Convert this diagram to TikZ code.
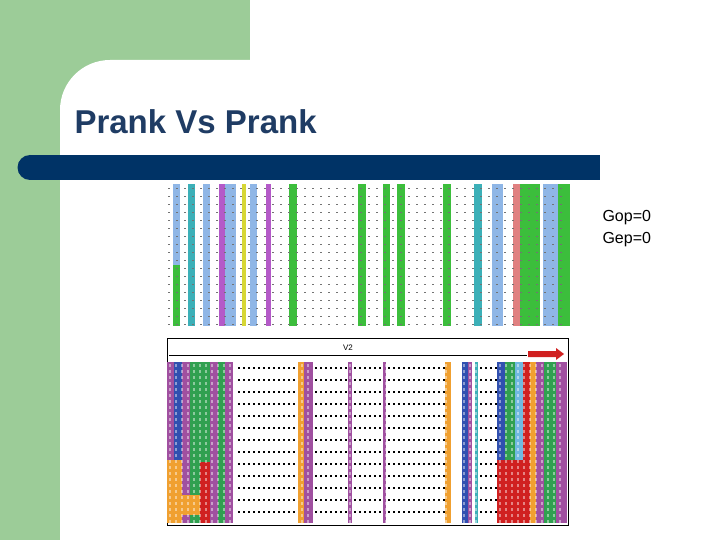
\documentclass[tikz,border=0pt]{standalone}
\usepackage{fontspec}
\setmainfont{Liberation Sans}
\begin{document}
\begin{tikzpicture}[x=1pt,y=-1pt]
\definecolor{bggreen}{HTML}{9CCC98}
\definecolor{navy}{HTML}{003366}
\definecolor{ttl}{HTML}{1F3C64}
\definecolor{lb}{HTML}{8FB6E6}\definecolor{tl}{HTML}{3CB0B8}
\definecolor{pu}{HTML}{B45AC8}\definecolor{ye}{HTML}{D7D735}
\definecolor{gr}{HTML}{3CBE3C}\definecolor{pk}{HTML}{E08080}
\definecolor{bpu}{HTML}{A050A0}\definecolor{bbl}{HTML}{3050B0}
\definecolor{bgr}{HTML}{30A050}\definecolor{bor}{HTML}{F0A030}
\definecolor{bre}{HTML}{D02020}\definecolor{blb}{HTML}{70B8E0}
\tikzset{stripe/.style={fill=#1,draw=none}}
\useasboundingbox (0,0) rectangle (720,540);
\fill[white] (0,0) rectangle (720,540);
\fill[bggreen] (0,0) rectangle (250,60);
\fill[bggreen] (0,0) rectangle (60,540);
\fill[bggreen] (60,60) rectangle (110,110);
\fill[white] (60,110) arc[start angle=180,end angle=270,radius=50] -- (250,60) -- (250,540) -- (60,540) -- cycle;
\node[anchor=west,font=\bfseries\fontsize{33}{38}\selectfont,text=ttl] (title) at (71,122) {Prank Vs Prank};
\fill[navy] (30,155) rectangle (600,180);
\fill[navy] (30,167.5) circle[radius=12.5];
\node[anchor=west,font=\fontsize{16}{18}\selectfont] (gop) at (599,218) {Gop=0};
\node[anchor=west,font=\fontsize{16}{18}\selectfont] (gep) at (599,240) {Gep=0};
% top alignment
\foreach \a/\b/\c in {173/180/lb,188/195/tl,203/210/lb,219/225/pu,225/236/lb,242/246/ye,250/257/lb,266/271/pu,289/297/gr,358/366/gr,383/390/gr,397/405/gr,443/451/gr,474/482/tl,492/503/lb,513/520/pk,520/540/gr,543/558/lb,558/570/gr}
  \fill[stripe=\c] (\a,184) rectangle (\b,326);
\foreach \a/\b/\c in {173/180/gr,188/195/tl,289/297/gr}
  \fill[stripe=\c] (\a,265) rectangle (\b,326);
\foreach \y in {187,195,...,323}
  \foreach \x in {168,176,...,565}
    \fill[black!55] (\x,\y+1) rectangle (\x+1.6,\y+2.2);
% bottom alignment
\draw[black,line width=0.8pt] (167,338) rectangle (568,525);
\node[font=\fontsize{8}{9}\selectfont] (v2) at (348,348) {V2};
\draw (169,355) -- (527,355);
\fill[bre] (528,351) -- (556,351) -- (556,348) -- (564,354) -- (556,360) -- (556,357) -- (528,357) -- cycle;
\foreach \a/\b/\c in {167/174/bpu,174/182/bbl,182/190/bpu,190/200/bgr,200/210/bgr,210/218/bpu,218/225/bgr,225/233/bpu,298/304/bor,304/313/bpu,348/352/bpu,383/386/bpu,445/451/bor,462/468/bbl,468/472/bpu,475/478/tl,497/505/bbl,505/515/bgr,515/523/blb,523/530/bre,530/536/bor,536/544/bpu,544/556/bgr,556/567/bpu}
  \fill[stripe=\c] (\a,362) rectangle (\b,523);
\fill[bor] (167,460) rectangle (182,523);
\fill[bre] (200,462) rectangle (210,523);
\fill[bre] (497,460) rectangle (523,523);
\fill[bor] (180,495) rectangle (200,515);
\foreach \y in {367,379,...,521}
  \foreach \x in {238,243,...,296,315,320,...,346,354,359,...,381,388,393,...,443,480,485,...,495}
    \fill[black] (\x,\y) rectangle (\x+2.2,\y+1.8);
\foreach \y in {364,370,...,520}
  \foreach \x in {169,175,...,563}
    \fill[white,opacity=0.45] (\x,\y) rectangle (\x+2.2,\y+3);
\end{tikzpicture}
\end{document}
